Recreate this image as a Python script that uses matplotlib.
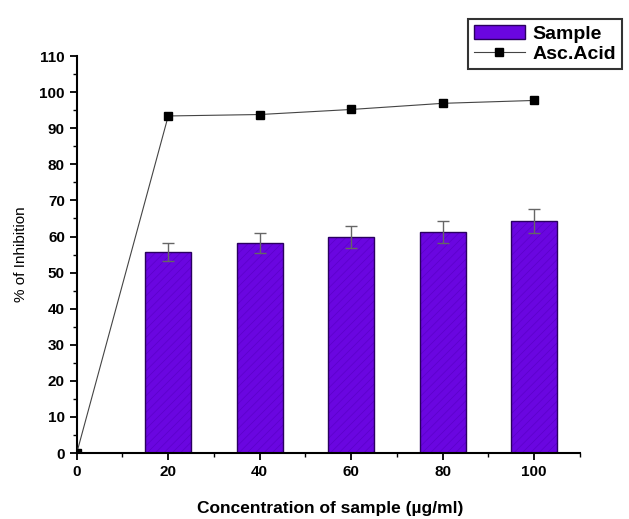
import numpy as np
import matplotlib.pyplot as plt
from matplotlib.patches import Patch
from matplotlib.ticker import MultipleLocator

plt.rcParams['font.family'] = ['Liberation Sans', 'DejaVu Sans']

# concentrations (ug/ml)
conc = [20, 40, 60, 80, 100]
sample = [55.6, 58.3, 59.8, 61.2, 64.3]
sample_err = [2.5, 2.8, 3.1, 3.1, 3.2]

asc_conc = [0, 20, 40, 60, 80, 100]
asc_acid = [0, 93.4, 93.8, 95.2, 96.9, 97.7]

fig = plt.figure(figsize=(6.29, 5.19), dpi=100)
ax = fig.add_axes([0.122, 0.127, 0.800, 0.765])

plt.rcParams['hatch.linewidth'] = 0.4
# faint hatch fill, then a dark outline on top
ax.bar(conc, sample, width=10, color='#6a06e0', edgecolor='#5800c4',
       linewidth=0, hatch='////', zorder=2)
ax.bar(conc, sample, width=10, color='none', edgecolor='#2a0060',
       linewidth=1.0, zorder=2)
ax.errorbar(conc, sample, yerr=sample_err, fmt='none', ecolor='#666666',
            elinewidth=1.0, capsize=4, capthick=1.0, zorder=3)
line, = ax.plot(asc_conc, asc_acid, color='#444444', lw=0.8, marker='s', ms=6,
                mfc='black', mec='black', label='Asc.Acid', zorder=4)

ax.set_xlim(0, 110)
ax.set_ylim(0, 110)
ax.xaxis.set_major_locator(MultipleLocator(20))
ax.xaxis.set_minor_locator(MultipleLocator(10))
ax.yaxis.set_major_locator(MultipleLocator(10))
ax.yaxis.set_minor_locator(MultipleLocator(5))
ax.spines['top'].set_visible(False)
ax.spines['right'].set_visible(False)
for s in ['left', 'bottom']:
    ax.spines[s].set_linewidth(1.5)
ax.tick_params(which='major', direction='out', length=5, width=1.3)
ax.tick_params(which='minor', direction='out', length=3, width=1.0)
for lab in ax.get_xticklabels() + ax.get_yticklabels():
    lab.set_fontweight('bold')
    lab.set_fontsize(11)

ax.set_ylabel('% of Inhibition', fontsize=11, labelpad=8)
fig.text(0.525, 0.02, 'Concentration of sample (\u00b5g/ml)', fontsize=12.5,
         fontweight='bold', ha='center', va='center')

bar_handle = Patch(facecolor='#6a06e0', edgecolor='#2a0060', linewidth=1.0)
leg = fig.legend([bar_handle, line], ['Sample', 'Asc.Acid'], loc='upper right',
                 bbox_to_anchor=(1.004, 0.982),
                 prop={'weight': 'bold', 'size': 14}, fancybox=False,
                 edgecolor='#333333', framealpha=1, handlelength=2.6,
                 handletextpad=0.4, borderpad=0.3, labelspacing=0.15)
leg.get_frame().set_linewidth(1.5)

fig.savefig('out.png', dpi=100)
